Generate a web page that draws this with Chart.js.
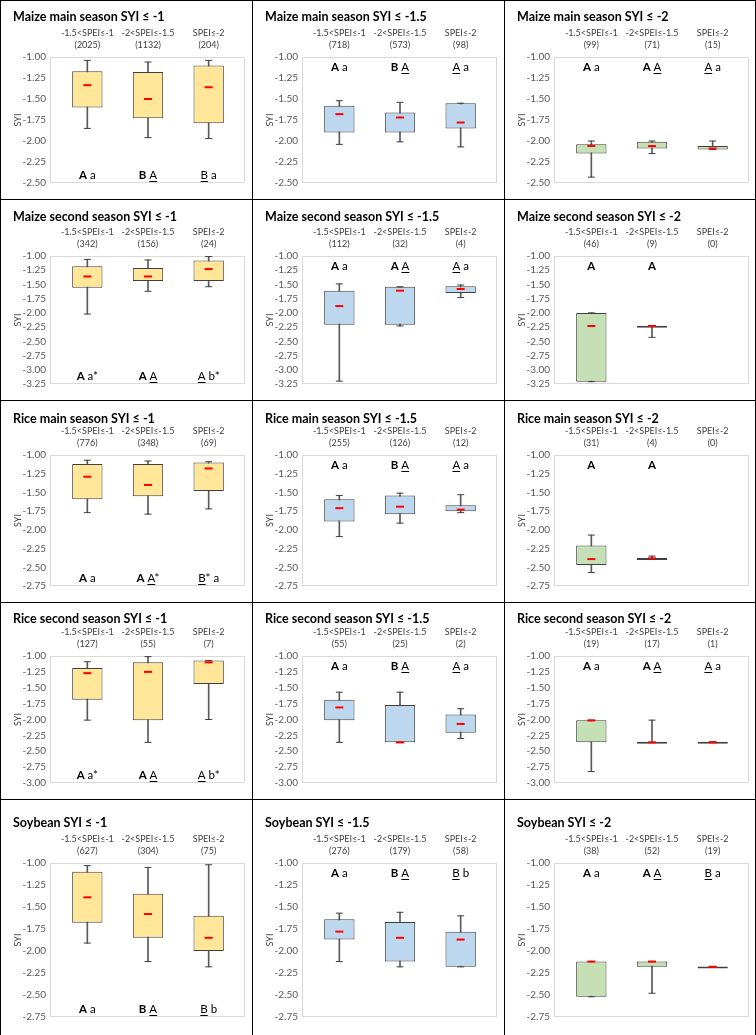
<!DOCTYPE html>
<html>
<head>
<meta charset="utf-8">
<script src="https://cdn.jsdelivr.net/npm/chart.js@4.4.1/dist/chart.umd.min.js"></script>
<style>
  body { margin: 0; background: #fff; }
  #grid { position: relative; width: 756px; height: 1035px; overflow: hidden; }
  .panel { position: absolute; box-sizing: border-box; border-left: 1px solid #000; border-top: 1px solid #000; }
  .panel.last { border-right: 1px solid #000; }
  canvas { display: block; }
</style>
</head>
<body>
<div id="grid"></div>
<script>
// SPEI classes shown above every panel
const speiClasses = ["-1.5<SPEI≤-1", "-2<SPEI≤-1.5", "SPEI≤-2"];

const titles = [
  "Maize main season SYI ≤ -1", "Maize main season SYI ≤ -1.5", "Maize main season SYI ≤ -2",
  "Maize second season SYI ≤ -1", "Maize second season SYI ≤ -1.5", "Maize second season SYI ≤ -2",
  "Rice main season SYI ≤ -1", "Rice main season SYI ≤ -1.5", "Rice main season SYI ≤ -2",
  "Rice second season SYI ≤ -1", "Rice second season SYI ≤ -1.5", "Rice second season SYI ≤ -2",
  "Soybean SYI ≤ -1", "Soybean SYI ≤ -1.5", "Soybean SYI ≤ -2",
];

// sample sizes
const counts = [
  [2025, 1132, 204], [718, 573, 98], [99, 71, 15],
  [342, 156, 24], [112, 32, 4], [46, 9, 0],
  [776, 348, 69], [255, 126, 12], [31, 4, 0],
  [127, 55, 7], [55, 25, 2], [19, 17, 1],
  [627, 304, 75], [276, 179, 58], [38, 52, 19],
];

// upper edge of box
const boxHigh = [
  [-1.17, -1.18, -1.10], [-1.58, -1.66, -1.55], [-2.04, -2.01, -2.06],
  [-1.18, -1.21, -1.08], [-1.61, -1.54, -1.53], [-2.00, -2.225, null],
  [-1.12, -1.12, -1.10], [-1.59, -1.54, -1.67], [-2.21, -2.375, null],
  [-1.19, -1.10, -1.07], [-1.69, -1.77, -1.92], [-2.01, -2.35, -2.35],
  [-1.10, -1.35, -1.60], [-1.64, -1.67, -1.78], [-2.12, -2.12, -2.175],
];

// lower edge of box
const boxLow = [
  [-1.60, -1.73, -1.79], [-1.90, -1.90, -1.85], [-2.15, -2.09, -2.10],
  [-1.56, -1.44, -1.44], [-2.21, -2.21, -1.65], [-3.21, -2.235, null],
  [-1.59, -1.55, -1.48], [-1.89, -1.79, -1.75], [-2.47, -2.385, null],
  [-1.69, -2.01, -1.44], [-2.01, -2.36, -2.21], [-2.36, -2.36, -2.36],
  [-1.68, -1.85, -2.00], [-1.87, -2.12, -2.18], [-2.52, -2.18, -2.185],
];

// whisker ends
const whiskerHigh = [
  [-1.04, -1.06, -1.04], [-1.52, -1.54, -1.55], [-2.00, -2.00, -2.00],
  [-1.06, -1.07, -1.01], [-1.49, -1.54, -1.51], [-2.00, -2.225, null],
  [-1.07, -1.08, -1.09], [-1.54, -1.51, -1.53], [-2.07, -2.35, null],
  [-1.09, -1.01, -1.07], [-1.57, -1.57, -1.83], [-2.01, -2.01, -2.35],
  [-1.03, -1.05, -1.02], [-1.57, -1.56, -1.60], [-2.12, -2.12, -2.175],
];

const whiskerLow = [
  [-1.85, -1.96, -1.97], [-2.04, -2.01, -2.07], [-2.43, -2.15, -2.10],
  [-2.02, -1.62, -1.54], [-3.20, -2.23, -1.73], [-3.21, -2.43, null],
  [-1.77, -1.79, -1.72], [-2.09, -1.91, -1.77], [-2.57, -2.39, null],
  [-2.01, -2.36, -2.00], [-2.36, -2.36, -2.30], [-2.82, -2.36, -2.36],
  [-1.91, -2.12, -2.18], [-2.12, -2.18, -2.18], [-2.52, -2.48, -2.185],
];

// red dash = mean
const means = [
  [-1.335, -1.50, -1.36], [-1.68, -1.72, -1.78], [-2.06, -2.06, -2.09],
  [-1.36, -1.36, -1.23], [-1.88, -1.61, -1.58], [-2.23, -2.23, null],
  [-1.29, -1.40, -1.18], [-1.71, -1.69, -1.73], [-2.39, -2.38, null],
  [-1.27, -1.25, -1.10], [-1.81, -2.36, -2.07], [-2.015, -2.36, -2.36],
  [-1.39, -1.58, -1.85], [-1.78, -1.85, -1.87], [-2.12, -2.12, -2.18],
];

// significance letters: "!" = bold, "_" = underlined first letter
const letters = [
  ["!A a", "!B _A", "_B a"], ["!A a", "!B _A", "_A a"], ["!A a", "!A _A", "_A a"],
  ["!A a*", "!A _A", "_A b*"], ["!A a", "!A _A", "_A a"], ["!A", "!A", ""],
  ["!A a", "!A _A*", "_B* a"], ["!A a", "!B _A", "_A a"], ["!A", "!A", ""],
  ["!A a*", "!A _A", "_A b*"], ["!A a", "!B _A", "_A a"], ["!A a", "!A _A", "_A a"],
  ["!A a", "!B _A", "_B b"], ["!A a", "!B _A", "_B b"], ["!A a", "!A _A", "_B a"],
];

const yMinByRow = [-2.5, -3.25, -2.75, -3.0, -2.75];
const yMax = -1.0;

// layout of the grid
const colLeft = [0, 252, 504];
const rowTop = [0, 199, 400, 602, 799];
const rowHeight = [199, 201, 202, 197, 236];
const plotTop = [56, 56, 54, 53, 63];
const plotBottom = [189, 190, 188, 186, 217];
const titleMid = [16, 17, 18, 16, 23];
const fills = ["#FFE699", "#BDD7EE", "#C5E0B4"];
const FONT = 'Lato, "DejaVu Sans", sans-serif';

Chart.defaults.font.family = FONT;
Chart.defaults.color = "#404040";

// light grey frame around the plot area
const plotFrame = {
  id: "plotFrame",
  beforeDatasetsDraw(chart) {
    const { ctx, chartArea: a } = chart;
    ctx.save();
    ctx.strokeStyle = "#D9D9D9";
    ctx.lineWidth = 1;
    ctx.strokeRect(Math.round(a.left) - 6.5, Math.round(a.top) + 0.5,
      Math.round(a.width) + 12, Math.round(a.height) - 1);
    ctx.restore();
  },
};

// the A / a letters inside the plot
const sigLetters = {
  id: "sigLetters",
  afterDatasetsDraw(chart, args, opts) {
    const { ctx, chartArea, scales } = chart;
    const y = opts.bottom ? chartArea.bottom - 8 : chartArea.top + 10;
    const font = (b) => (b ? "bold " : "") + "11.5px " + FONT;
    ctx.save();
    ctx.textBaseline = "middle";
    ctx.textAlign = "left";
    ctx.fillStyle = "#000";
    opts.items.forEach((str, i) => {
      if (!str) return;
      const parts = str.split(" ").map((t) => ({
        bold: t[0] === "!",
        under: t[0] === "_",
        text: t.replace(/^[!_]/, ""),
      }));
      ctx.font = font(false);
      const gap = ctx.measureText(" ").width;
      let total = gap * (parts.length - 1);
      parts.forEach((p) => {
        ctx.font = font(p.bold);
        p.w = ctx.measureText(p.text).width;
        total += p.w;
      });
      let x = scales.x.getPixelForValue(i) - total / 2;
      parts.forEach((p) => {
        ctx.font = font(p.bold);
        ctx.fillText(p.text, x, y);
        if (p.under) {
          ctx.fillRect(x, y + 6, ctx.measureText(p.text[0]).width, 1);
        }
        x += p.w + gap;
      });
    });
    ctx.restore();
  },
};

const grid = document.getElementById("grid");

titles.forEach((title, p) => {
  const row = Math.floor(p / 3);
  const col = p % 3;
  const div = document.createElement("div");
  div.className = "panel" + (col === 2 ? " last" : "");
  div.style.left = colLeft[col] + "px";
  div.style.top = rowTop[row] + "px";
  div.style.width = (col === 2 ? 252 : 253) + "px";
  div.style.height = rowHeight[row] + 1 + "px";
  const canvas = document.createElement("canvas");
  const cw = col === 2 ? 250 : 252;
  const ch = rowHeight[row];
  canvas.width = cw;
  canvas.height = ch;
  div.appendChild(canvas);
  grid.appendChild(div);

  const boxes = boxLow[p].map((lo, i) => (lo === null ? null : [lo, boxHigh[p][i]]));
  const whiskers = whiskerLow[p].map((lo, i) => (lo === null ? null : [lo, whiskerHigh[p][i]]));
  const titlePadTop = titleMid[row] - 7.5;
  const xAxisHeight = plotTop[row] - titleMid[row] - 7.5;

  const dash = (data, color, r, w, order) => ({
    type: "line",
    data,
    showLine: false,
    pointStyle: "line",
    pointRadius: r,
    pointBorderWidth: w,
    pointBorderColor: color,
    borderColor: color,
    order,
  });

  new Chart(canvas, {
    type: "bar",
    data: {
      labels: speiClasses.map((s, i) => [s, "(" + counts[p][i] + ")"]),
      datasets: [
        dash(means[p], "#FF0000", 4, 2, 0),
        dash(whiskerHigh[p], "#404040", 3.5, 1, 1),
        dash(whiskerLow[p], "#404040", 3.5, 1, 1),
        {
          data: boxes,
          backgroundColor: fills[col],
          borderColor: "#404040",
          borderWidth: 1,
          borderSkipped: false,
          barPercentage: 0.5,
          categoryPercentage: 1,
          minBarLength: 2,
          grouped: false,
          order: 2,
        },
        {
          data: whiskers,
          backgroundColor: "#595959",
          barThickness: 1,
          grouped: false,
          order: 3,
        },
      ],
    },
    options: {
      responsive: false,
      animation: false,
      events: [],
      layout: { padding: { left: 12, right: cw - 238, top: 0, bottom: ch - plotBottom[row] } },
      plugins: {
        legend: { display: false },
        tooltip: { enabled: false },
        title: {
          display: true,
          text: title,
          align: "start",
          color: "#000",
          font: { size: 12.5, weight: "bold", lineHeight: 1.2 },
          padding: { top: titlePadTop, bottom: 0 },
        },
        sigLetters: { items: letters[p], bottom: col === 0 },
      },
      scales: {
        x: {
          position: "top",
          offset: true,
          grid: { display: false, drawTicks: false },
          border: { display: false },
          ticks: { font: { size: 9, lineHeight: 1.3 }, color: "#404040", padding: 6, maxRotation: 0, autoSkip: false },
          afterFit: (s) => { s.height = xAxisHeight; },
        },
        y: {
          min: yMinByRow[row],
          max: yMax,
          grid: { display: false, drawTicks: false },
          border: { display: false },
          ticks: { stepSize: 0.25, autoSkip: false, font: { size: 10 }, color: "#595959", padding: 11, callback: (v) => v.toFixed(2) },
          title: { display: true, text: "SYI", font: { size: 9 }, color: "#404040", padding: 0 },
          afterFit: (s) => { s.width = 44; },
        },
      },
    },
    plugins: [plotFrame, sigLetters],
  });
});
</script>
</body>
</html>
